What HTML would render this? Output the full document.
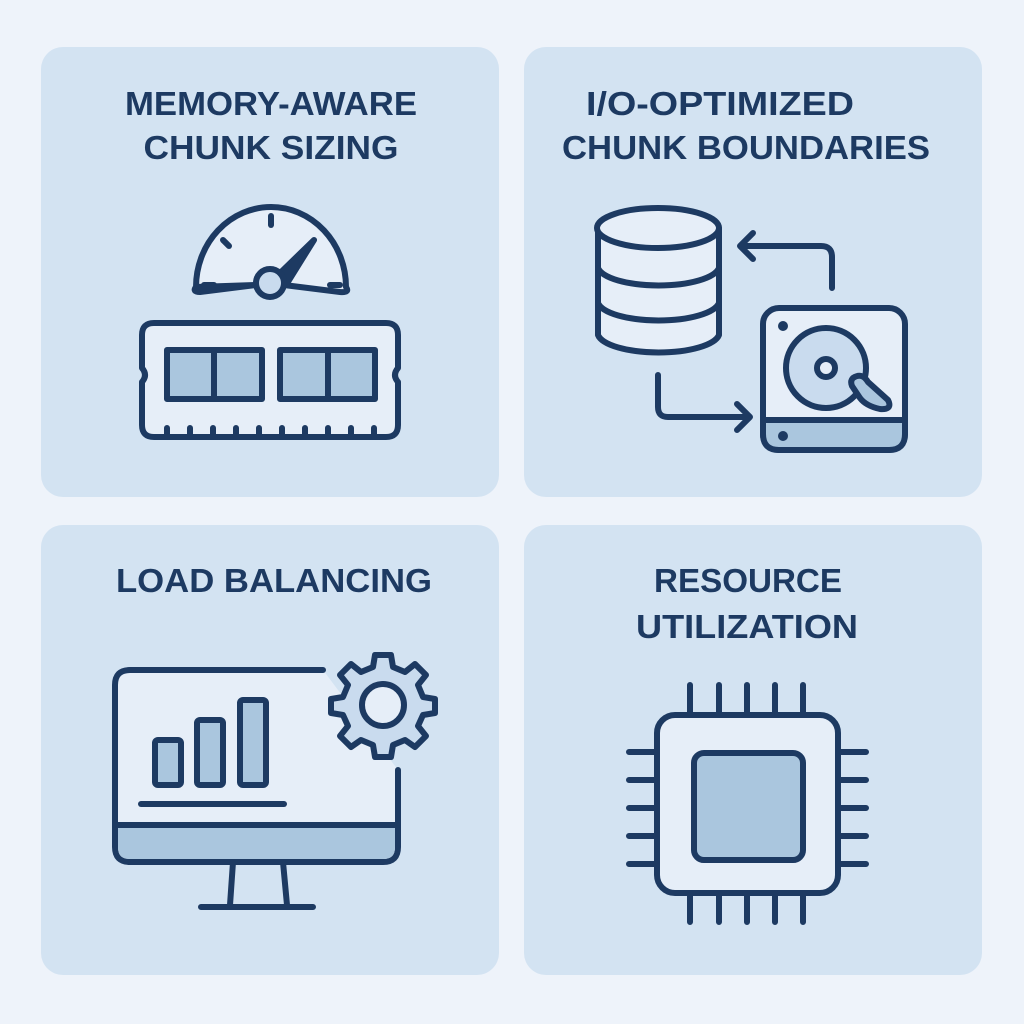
<!DOCTYPE html>
<html><head><meta charset="utf-8"><style>html,body{margin:0;padding:0;background:#eef3fa}svg{display:block}</style></head>
<body>
<svg width="1024" height="1024" viewBox="0 0 1024 1024" xmlns="http://www.w3.org/2000/svg">
<rect width="1024" height="1024" fill="#eef3fa"/>
<g fill="#d3e3f2">
<rect x="41" y="47" width="458" height="450" rx="22"/>
<rect x="524" y="47" width="458" height="450" rx="22"/>
<rect x="41" y="525" width="458" height="450" rx="22"/>
<rect x="524" y="525" width="458" height="450" rx="22"/>
</g>
<g font-family="Liberation Sans, sans-serif" font-weight="bold" font-size="33" fill="#1d3a62" text-anchor="middle">
<text x="271" y="115" textLength="292" lengthAdjust="spacingAndGlyphs">MEMORY-AWARE</text>
<text x="271" y="159" textLength="255" lengthAdjust="spacingAndGlyphs">CHUNK SIZING</text>
<text x="720" y="115" textLength="268" lengthAdjust="spacingAndGlyphs">I/O-OPTIMIZED</text>
<text x="746" y="159" textLength="368" lengthAdjust="spacingAndGlyphs">CHUNK BOUNDARIES</text>
<text x="274" y="592" textLength="316" lengthAdjust="spacingAndGlyphs">LOAD BALANCING</text>
<text x="748" y="592" textLength="188" lengthAdjust="spacingAndGlyphs">RESOURCE</text>
<text x="747" y="638" textLength="222" lengthAdjust="spacingAndGlyphs">UTILIZATION</text>
</g>
<g stroke="#1d3a62" stroke-width="6" stroke-linecap="round" stroke-linejoin="round" fill="none">
<!-- gauge -->
<path d="M196 287 A75 80 0 0 1 346 287 Q350 293 340 292 L284 285 M256 285 L200 292 Q192 292 196 287Z" fill="#e6eef8"/>
<line x1="271" y1="216" x2="271" y2="225"/>
<line x1="223" y1="240" x2="229" y2="246"/>
<path d="M204 285 h10 M330 285 h10"/>
<path d="M278 275 L314 240 L286 285" fill="#1d3a62"/>
<circle cx="270" cy="283" r="14" fill="#c9dbee"/>
<!-- RAM -->
<path d="M154 323 H386 Q398 323 398 335 V368 Q392 375 398 382 V425 Q398 437 386 437 H154 Q142 437 142 425 V382 Q148 375 142 368 V335 Q142 323 154 323Z" fill="#e6eef8"/>
<rect x="167" y="350" width="95" height="49" fill="#aac6de"/>
<line x1="214" y1="350" x2="214" y2="399"/>
<rect x="280" y="350" width="95" height="49" fill="#aac6de"/>
<line x1="328" y1="350" x2="328" y2="399"/>
<path d="M167 437v-9 M190 437v-9 M213 437v-9 M236 437v-9 M259 437v-9 M282 437v-9 M305 437v-9 M328 437v-9 M351 437v-9 M374 437v-9"/>
<!-- database -->
<path d="M598 228 V335 A61 20 0 0 0 719 335 V228" fill="#e6eef8"/>
<ellipse cx="658" cy="228" rx="61" ry="20" fill="#e6eef8"/>
<path d="M598 268 A61 20 0 0 0 719 268 M598 303 A61 20 0 0 0 719 303"/>
<path d="M832 288 V257 Q832 246 821 246 H741 M753 233 L740 246 L753 259"/>
<path d="M658 375 V407 Q658 417 668 417 H750 M737 404 L750 417 L737 430"/>
<!-- HDD -->
<rect x="763" y="308" width="142" height="142" rx="16" fill="#e6eef8"/>
<path d="M763 420 H905 V434 Q905 450 889 450 H779 Q763 450 763 434Z" fill="#aac6de"/>
<circle cx="826" cy="368" r="40" fill="#c9dbee"/>
<circle cx="826" cy="368" r="9" fill="#e6eef8"/>
<path d="M853 378 Q862 372 868 382 L888 400 Q893 410 880 409 Q866 406 860 398 L852 386 Q850 381 853 378Z" fill="#aac6de"/>
<circle cx="783" cy="326" r="2" fill="#1d3a62"/>
<circle cx="783" cy="436" r="2" fill="#1d3a62"/>
<!-- monitor -->
<path d="M323 670 H130 Q115 670 115 685 V847 Q115 862 130 862 H383 Q398 862 398 847 V770" fill="#e6eef8"/>
<path d="M118 825 H395 V847 Q395 859 383 859 H130 Q118 859 118 847Z" fill="#aac6de" stroke="none"/>
<line x1="115" y1="825" x2="398" y2="825"/>
<path d="M233 862 L230 905 M283 862 L287 905 M201 907 H313"/>
<rect x="155" y="740" width="26" height="45" rx="3" fill="#aac6de"/>
<rect x="197" y="720" width="26" height="65" rx="3" fill="#aac6de"/>
<rect x="240" y="700" width="26" height="85" rx="3" fill="#aac6de"/>
<line x1="141" y1="804" x2="284" y2="804"/>
<!-- gear -->
<g transform="translate(383,705)">
<path fill="#c9dbee" d="M-8 -50 H8 L10 -38 L22 -33 L32 -41 L43 -30 L35 -20 L40 -8 L52 -6 V8 L40 10 L35 21 L43 31 L32 42 L22 35 L10 40 L8 52 H-8 L-10 40 L-22 35 L-32 42 L-43 31 L-35 21 L-40 10 L-52 8 V-6 L-40 -8 L-35 -20 L-43 -30 L-32 -41 L-22 -33 L-10 -38Z"/>
<circle r="21" fill="#e6eef8"/>
</g>
<!-- CPU -->
<path d="M690 685v30 M719 685v30 M747 685v30 M775 685v30 M803 685v30 M690 893v29 M719 893v29 M747 893v29 M775 893v29 M803 893v29 M629 752h28 M629 780h28 M629 808h28 M629 836h28 M629 864h28 M838 752h28 M838 780h28 M838 808h28 M838 836h28 M838 864h28"/>
<rect x="657" y="715" width="181" height="178" rx="18" fill="#e6eef8"/>
<rect x="694" y="753" width="109" height="107" rx="10" fill="#aac6de"/>
</g>
</svg>
</body></html>
